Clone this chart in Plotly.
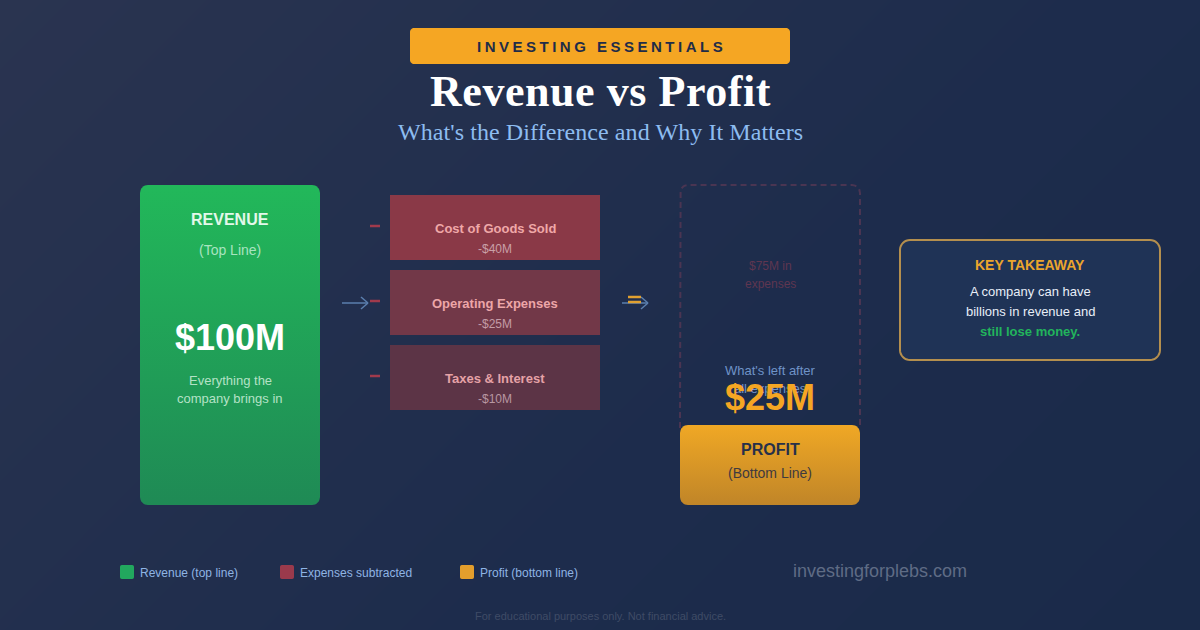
import math
import plotly.graph_objects as go

# values shown in the diagram, in $M
revenue_value = 100
expense_labels = ["Cost of Goods Sold", "Operating Expenses", "Taxes & Interest"]
expense_values = [40, 25, 10]
total_expenses = 75
profit_value = 25

legend_labels = ["Revenue (top line)", "Expenses subtracted", "Profit (bottom line)"]

SANS = "Liberation Sans, Arial, sans-serif"
SERIF = "Liberation Serif, serif"
ORANGE = "#f5a623"

fig = go.Figure()
shapes = []
notes = []


def rounded(x0, y0, x1, y1, r):
    # outline of a rounded box as a closed list of points
    xs, ys = [], []
    corners = [(x1 - r, y0 + r, -90), (x1 - r, y1 - r, 0), (x0 + r, y1 - r, 90), (x0 + r, y0 + r, 180)]
    for cx, cy, start in corners:
        for k in range(9):
            a = math.radians(start + k * 90 / 8)
            xs.append(cx + r * math.cos(a))
            ys.append(cy + r * math.sin(a))
    xs.append(xs[0])
    ys.append(ys[0])
    return xs, ys


def box(x0, y0, x1, y1, r, fill=None, grad=None, line=None, width=0):
    xs, ys = rounded(x0, y0, x1, y1, r)
    path = "M" + " L".join(f"{a:.2f},{b:.2f}" for a, b in zip(xs, ys)) + " Z"
    if grad:
        fig.add_trace(go.Scatter(x=xs, y=ys, mode="lines", fill="toself", line=dict(width=0),
                                 fillgradient=dict(type="vertical", colorscale=[[0, grad[0]], [1, grad[1]]]),
                                 hoverinfo="skip", showlegend=False))
    else:
        shapes.append(dict(type="path", path=path, xref="x", yref="y", fillcolor=fill or "rgba(0,0,0,0)",
                           line=dict(color=line or "rgba(0,0,0,0)", width=width)))


def label(x, y, text, size, color, bold=False, family=SANS, anchor="center"):
    if bold:
        text = f"<b>{text}</b>"
    notes.append(dict(x=x, y=y, xref="x", yref="y", text=text, showarrow=False, xanchor=anchor, yanchor="middle",
                      font=dict(size=size, color=color, family=family), align="center"))


def rule(x0, y0, x1, y1, color, width):
    shapes.append(dict(type="line", x0=x0, y0=y0, x1=x1, y1=y1, xref="x", yref="y", line=dict(color=color, width=width)))


# background, lighter at the top left
fig.add_trace(go.Heatmap(x=[0, 1200], y=[0, 630], z=[[0, 0.656], [0.344, 1]], zmin=0, zmax=1, zsmooth="best",
                         showscale=False, hoverinfo="skip",
                         colorscale=[[0, "#2a3450"], [0.6, "#1d2c4c"], [1, "#1a2a49"]]))

# header
box(410, 28, 790, 64, 4, fill=ORANGE)
label(601, 46, '<span style="letter-spacing:3.5px">INVESTING ESSENTIALS</span>', 15, "#1f2c48", bold=True)
label(600.5, 91, '<span style="letter-spacing:0.55px">Revenue vs Profit</span>', 44, "#ffffff", bold=True, family=SERIF)
label(600, 132, '<span style="letter-spacing:0.08px">What\'s the Difference and Why It Matters</span>', 24, "#8dbcf0",
      family=SERIF)

# revenue card
box(140, 185, 320, 505, 8, grad=("#1f8a55", "#22b85a"))
label(230, 219, "REVENUE", 16, "#e2f8ea", bold=True)
label(230, 250, "(Top Line)", 14, "#a8e4c0")
label(230, 337, f"${revenue_value}M", 36, "#ffffff", bold=True)
label(230, 380, "Everything the", 13, "#b4e2c6")
label(230, 398, "company brings in", 13, "#b4e2c6")

# arrows
for x0 in [342, 622]:
    rule(x0, 303, x0 + 25, 303, "#5b7fae", 1.5)
    rule(x0 + 19, 297, x0 + 26, 303, "#5b7fae", 1.5)
    rule(x0 + 19, 309, x0 + 26, 303, "#5b7fae", 1.5)
rule(628, 297, 641, 297, "#e0a030", 2.5)
rule(628, 302, 641, 302, "#e0a030", 2.5)

# expense bars
bar_fill = ["#8a3947", "#723848", "#5c3446"]
text_main = ["#f0a8a8", "#eda6a8", "#e6a2a6"]
text_sub = ["#c9a0a8", "#c49ca6", "#b897a2"]
for i, (name, val) in enumerate(zip(expense_labels, expense_values)):
    y0 = 195 + i * 75
    box(390, y0, 600, y0 + 65, 0, fill=bar_fill[i])
    label(495, y0 + 33, name, 13, text_main[i], bold=True)
    label(495, y0 + 53.5, f"-${val}M", 12, text_sub[i])
    rule(370, y0 + 31, 380, y0 + 31, "#a03a4c", 2.5)

# profit column, dashed outline stops at the top of the profit card
xs, ys = rounded(680, 185, 860, 505, 8)
fig.add_trace(go.Scatter(x=[680] + xs[27:36] + xs[0:9] + [860], y=[428] + ys[27:36] + ys[0:9] + [428], mode="lines",
                         line=dict(color="#4a3552", width=2, dash="6px,4px"), hoverinfo="skip", showlegend=False))
label(770, 265.5, f"${total_expenses}M in", 12, "#5f3650")
label(770, 283.5, "expenses", 12, "#5f3650")
box(680, 425, 860, 505, 8, grad=("#c08528", "#f0a825"))
label(770, 370.5, "What's left after", 13, "#6f93c8")
label(770, 388.5, "all expenses", 13, "#6f93c8")
label(770, 397, f"${profit_value}M", 36, ORANGE, bold=True)
label(770, 449.5, "PROFIT", 16, "#27304a", bold=True)
label(770, 473, "(Bottom Line)", 14, "#3f3a3f")

# takeaway box
box(900, 240, 1160, 360, 10, fill="#1f3356", line="#b48f4e", width=2)
label(1030, 265, "KEY TAKEAWAY", 14, "#eba52d", bold=True)
label(1030, 291.5, "A company can have", 13, "#e8eef8")
label(1030, 311.5, "billions in revenue and", 13, "#e8eef8")
label(1030, 331.5, "still lose money.", 13, "#22b45c", bold=True)

# legend and footer
leg_x = [120, 280, 460]
leg_col = ["#22a85e", "#9a3a4c", "#e39e2c"]
for x0, name, col in zip(leg_x, legend_labels, leg_col):
    box(x0, 565, x0 + 14, 579, 2, fill=col)
    label(x0 + 18, 572.5, name, 12, "#8fb4e4", anchor="left")
label(880, 571, "investingforplebs.com", 18, "#5f6c85")
label(600, 616, "For educational purposes only. Not financial advice.", 11, "#3f4b66")

fig.update_layout(
    width=1200, height=630, margin=dict(l=0, r=0, t=0, b=0),
    xaxis=dict(range=[0, 1200], visible=False, fixedrange=True),
    yaxis=dict(range=[630, 0], visible=False, fixedrange=True),
    paper_bgcolor="#1d2c4c", plot_bgcolor="#1d2c4c", showlegend=False,
    shapes=shapes, annotations=notes)

fig.write_html("out.html", config={"displayModeBar": False},
               post_script="document.body.style.margin='0';")
